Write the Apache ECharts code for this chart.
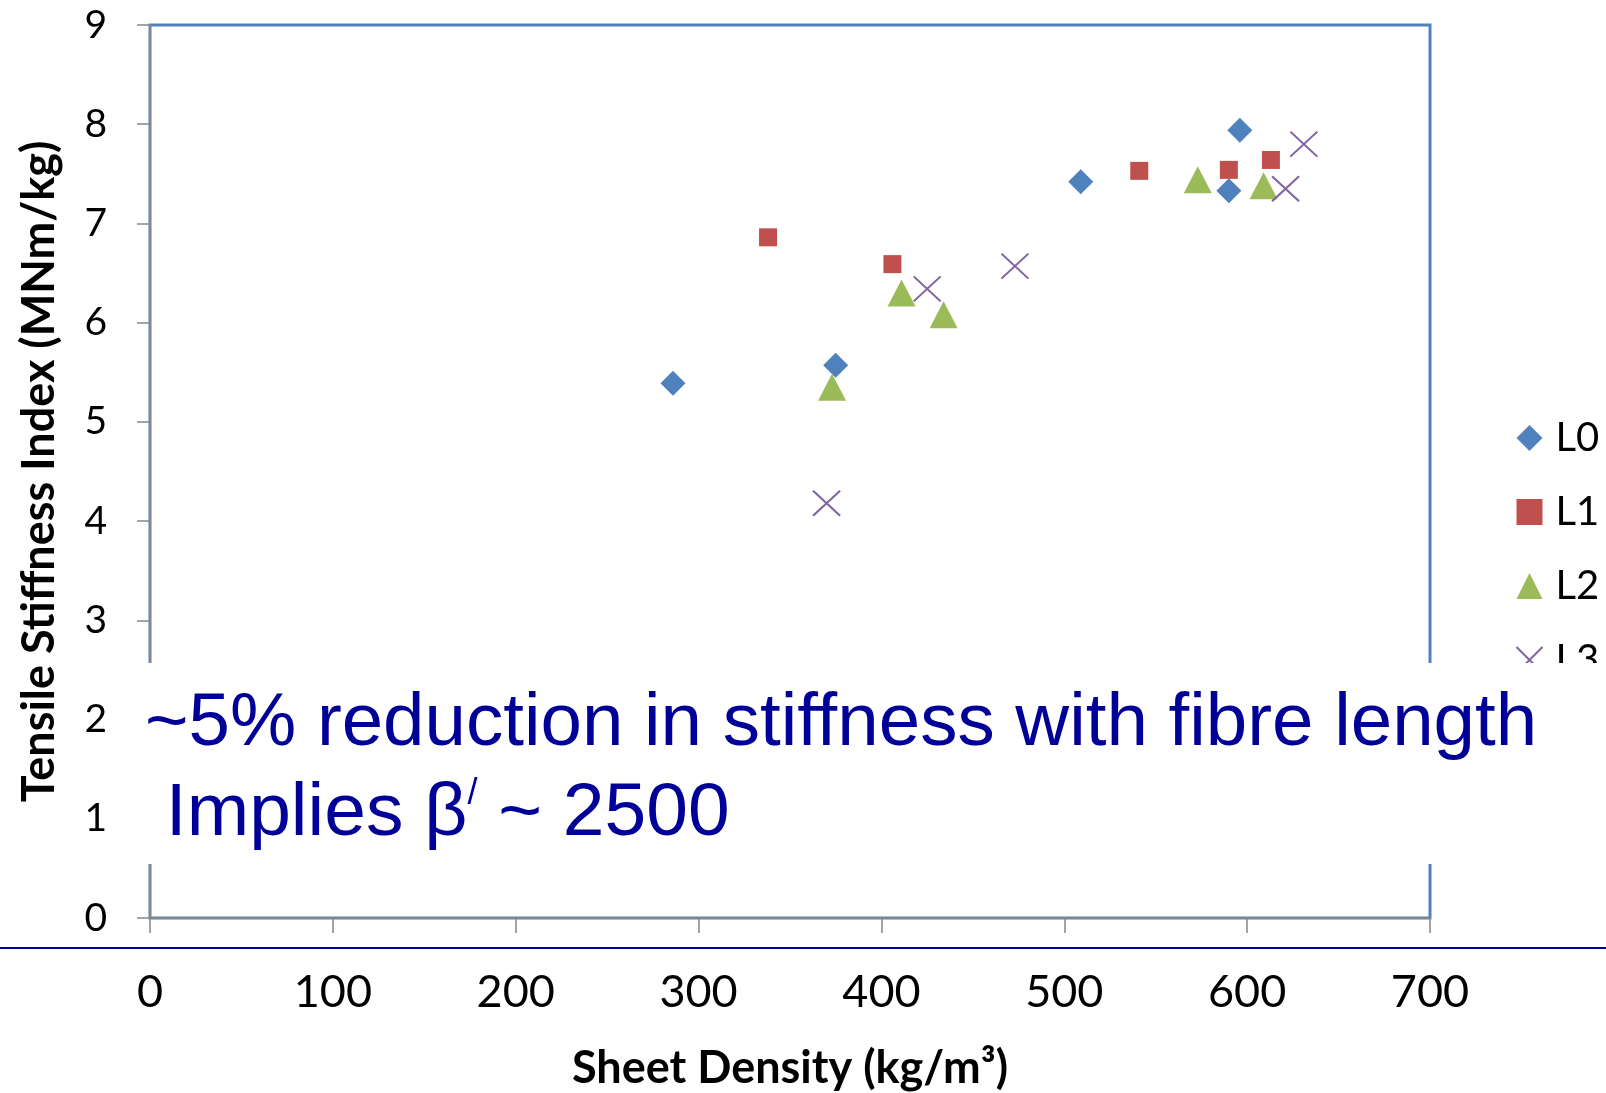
<!DOCTYPE html>
<html>
<head>
<meta charset="utf-8">
<script src="https://cdn.jsdelivr.net/npm/echarts@6/dist/echarts.min.js"></script>
<style>
html,body{margin:0;padding:0;background:#fff;}
#chart{width:1606px;height:1093px;}
</style>
</head>
<body>
<div id="chart"></div>
<script>
// ---- data (Sheet Density kg/m3, Tensile Stiffness Index MNm/kg) ----
const seriesNames = ['L0', 'L1', 'L2', 'L3'];
const L0 = [[286, 5.39], [375, 5.57], [509, 7.42], [596, 7.94], [590, 7.33]];
const L1 = [[338, 6.86], [406, 6.59], [541, 7.53], [590, 7.54], [613, 7.64]];
const L2 = [[373, 5.35], [411, 6.30], [434, 6.08], [573, 7.44], [609, 7.38]];
const L3 = [[370, 4.18], [425, 6.34], [473, 6.57], [621, 7.35], [631, 7.80]];
const xTicks = [0, 100, 200, 300, 400, 500, 600, 700];
const yTicks = [0, 1, 2, 3, 4, 5, 6, 7, 8, 9];
const xTitle = 'Sheet Density (kg/m³)';
const yTitle = 'Tensile Stiffness Index (MNm/kg)';
const note1 = '~5% reduction in stiffness with fibre length';
const note2a = ' Implies β';
const note2b = '/';
const note2c = ' ~ 2500';

const chart = echarts.init(document.getElementById('chart'), null, {renderer: 'canvas'});
const axisGrey = '#868686';
const noteColor = '#000099';
const labelFont = 'Lato';

const option = {
  backgroundColor: '#ffffff',
  animation: false,
  grid: {
    left: 150, right: 176, top: 25, bottom: 175,
    containLabel: false, outerBoundsMode: 'none',
    show: true, borderColor: '#4F81BD', borderWidth: 3, backgroundColor: 'transparent'
  },
  xAxis: {
    type: 'value', min: xTicks[0], max: xTicks[xTicks.length - 1], interval: 100,
    name: xTitle, nameLocation: 'middle', nameGap: 128,
    nameTextStyle: {fontFamily: labelFont, fontWeight: 'bold', fontSize: 45, color: '#000'},
    axisLine: {show: true, lineStyle: {color: axisGrey, width: 2}},
    axisTick: {show: true, length: 15, lineStyle: {color: axisGrey, width: 1.5}},
    axisLabel: {fontFamily: labelFont, fontSize: 45, color: '#000', margin: 52},
    splitLine: {show: false}
  },
  yAxis: {
    type: 'value', min: yTicks[0], max: yTicks[yTicks.length - 1], interval: 1,
    name: yTitle, nameLocation: 'middle', nameGap: 88, nameRotate: 90,
    nameTextStyle: {fontFamily: labelFont, fontWeight: 'bold', fontSize: 45, color: '#000'},
    axisLine: {show: true, lineStyle: {color: axisGrey, width: 2}},
    axisTick: {show: true, length: 13, lineStyle: {color: axisGrey, width: 1.5}},
    axisLabel: {fontFamily: labelFont, fontSize: 39, color: '#000', margin: 43},
    splitLine: {show: false}
  },
  legend: {
    orient: 'vertical', left: 1509, top: 413,
    itemWidth: 26, itemHeight: 26, itemGap: 34,
    textStyle: {fontFamily: labelFont, fontSize: 40, color: '#000', padding: [0, 0, 0, 8]},
    data: seriesNames
  },
  series: [
    {name: 'L0', type: 'scatter', data: L0, symbol: 'diamond', symbolSize: [25, 25],
     itemStyle: {color: '#4F81BD', opacity: 1}},
    {name: 'L1', type: 'scatter', data: L1, symbol: 'rect', symbolSize: [18, 18],
     itemStyle: {color: '#C0504D', opacity: 1}},
    {name: 'L2', type: 'scatter', data: L2, symbol: 'triangle', symbolSize: [28, 27],
     itemStyle: {color: '#9BBB59', opacity: 1}},
    {name: 'L3', type: 'scatter', data: L3, symbol: 'path://M0,0L10,10M10,0L0,10', symbolSize: [27, 25],
     itemStyle: {color: 'none', borderColor: '#8064A2', borderWidth: 2, opacity: 1}}
  ],
  graphic: {
    elements: [
      {type: 'rect', z: 100, shape: {x: 115, y: 663, width: 1491, height: 201},
       style: {fill: '#ffffff'}},
      {type: 'line', z: 100, shape: {x1: 0, y1: 948, x2: 1606, y2: 948},
       style: {stroke: noteColor, lineWidth: 2}},
      {type: 'text', z: 101, x: 145, y: 724,
       style: {text: note1, fontFamily: 'Liberation Sans', fontSize: 74.5, fill: noteColor,
               textVerticalAlign: 'middle', verticalAlign: 'middle'}},
      {type: 'text', z: 101, x: 145, y: 814,
       style: {
         text: '{a|' + note2a + '}{s|' + note2b + '}{a|' + note2c + '}',
         verticalAlign: 'middle',
         rich: {
           a: {fontFamily: 'Liberation Sans', fontSize: 75, fill: noteColor, color: noteColor, lineHeight: 75},
           s: {fontFamily: 'Liberation Sans', fontSize: 36, fill: noteColor, color: noteColor, verticalAlign: 'top', lineHeight: 36}
         }
       }}
    ]
  }
};
chart.setOption(option);
</script>
</body>
</html>
